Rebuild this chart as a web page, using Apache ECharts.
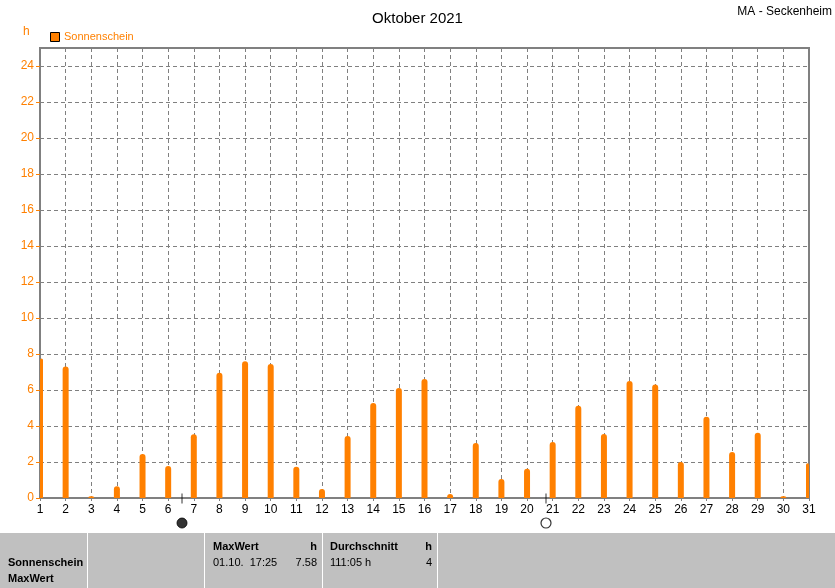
<!DOCTYPE html>
<html><head><meta charset="utf-8">
<script src="https://cdn.jsdelivr.net/npm/echarts@6/dist/echarts.min.js"></script>
<style>html,body{margin:0;padding:0;background:#fff}#c{width:835px;height:588px}</style>
</head><body><div id="c"></div>
<script>
const days = [1,2,3,4,5,6,7,8,9,10,11,12,13,14,15,16,17,18,19,20,21,22,23,24,25,26,27,28,29,30,31];
const sunshine = [7.75,7.3,0.1,0.65,2.44,1.78,3.54,6.96,7.6,7.44,1.74,0.5,3.44,5.28,6.11,6.61,0.22,3.06,1.06,1.63,3.11,5.13,3.56,6.5,6.3,2.0,4.52,2.56,3.63,0.1,1.93];
const yTicks = [0,2,4,6,8,10,12,14,16,18,20,22,24];
const newMoon = [6.54];
const fullMoon = [20.74];
const moonY = -1.39;
const orange = '#FF8000';
const font = 'Liberation Sans, Arial, sans-serif';

const chart = echarts.init(document.getElementById('c'), null, {renderer:'canvas'});
chart.setOption({
  animation:false,
  backgroundColor:'#fff',
  title:{text:'Oktober 2021', left:'center', top:6, textStyle:{fontFamily:font, fontSize:15, fontWeight:'normal', color:'#000'}},
  grid:{left:40, right:26, top:48, bottom:90, show:true, borderColor:'#808080', borderWidth:2, backgroundColor:'transparent'},
  xAxis:{type:'value', min:1, max:31, interval:1,
    axisLine:{show:true, lineStyle:{color:'#808080', width:2}},
    axisTick:{show:true, length:3, lineStyle:{color:'#808080'}},
    axisLabel:{color:'#000', fontFamily:font, fontSize:12, margin:6},
    splitLine:{show:true, lineStyle:{color:'#808080', type:[4,3], width:1}}},
  yAxis:{type:'value', min:0, max:25, interval:2,
    axisLine:{show:true, lineStyle:{color:'#808080', width:2}},
    axisTick:{show:true, length:4, lineStyle:{color:orange}},
    axisLabel:{color:orange, fontFamily:font, fontSize:12, margin:6, showMaxLabel:false,
      formatter:v=> yTicks.includes(v)? String(v):''},
    splitLine:{show:true, lineStyle:{color:'#808080', type:[4,3], width:1}}},
  series:[
    {type:'custom', name:'Sonnenschein', data:days.map((d,i)=>[d,sunshine[i]]), z:3,
      renderItem:function(params, api){
        const top = api.coord([api.value(0), api.value(1)]);
        const base = api.coord([api.value(0), 0]);
        const cs = params.coordSys;
        const rect = echarts.graphic.clipRectByRect(
          {x: top[0]-3, y: top[1], width: 6, height: base[1]-top[1]},
          {x: cs.x, y: cs.y, width: cs.width, height: cs.height});
        if (!rect) return null;
        return {type:'rect', shape:{x:rect.x, y:rect.y, width:rect.width, height:rect.height, r:[3,3,0,0]},
          style:{fill:orange}};
      }},
    {type:'scatter', data:newMoon.map(d=>[d,moonY]), clip:false, symbol:'circle', symbolSize:10,
      itemStyle:{color:'#000', borderColor:'#000', borderWidth:1}, z:5},
    {type:'scatter', data:fullMoon.map(d=>[d,moonY]), clip:false, symbol:'circle', symbolSize:10,
      itemStyle:{color:'#fff', borderColor:'#000', borderWidth:1.2}, z:5},
    {type:'scatter', data:newMoon.concat(fullMoon).map(d=>[d,-0.03]), clip:false, symbol:'rect', symbolSize:[1,10],
      itemStyle:{color:'#000'}, z:6}
  ],
  graphic:[
    {type:'text', right:3, top:6, style:{text:'MA - Seckenheim', font:'12px '+font, fill:'#000'}},
    {type:'text', left:23, top:26, style:{text:'h', font:'12px '+font, fill:orange}},
    {type:'rect', shape:{x:50.5, y:32.5, width:9, height:9}, style:{fill:orange, stroke:'#000', lineWidth:1}},
    {type:'text', left:64, top:31, style:{text:'Sonnenschein', font:'11px '+font, fill:orange}},
    {type:'rect', shape:{x:0, y:533, width:835, height:55}, style:{fill:'#C0C0C0'}},
    {type:'rect', shape:{x:87, y:533, width:1, height:55}, style:{fill:'#fff'}},
    {type:'rect', shape:{x:204, y:533, width:1, height:55}, style:{fill:'#fff'}},
    {type:'rect', shape:{x:322, y:533, width:1, height:55}, style:{fill:'#fff'}},
    {type:'rect', shape:{x:437, y:533, width:1, height:55}, style:{fill:'#fff'}},
    {type:'text', left:8, top:557, style:{text:'Sonnenschein', font:'bold 11px '+font, fill:'#000'}},
    {type:'text', left:8, top:573, style:{text:'MaxWert', font:'bold 11px '+font, fill:'#000'}},
    {type:'text', left:213, top:541, style:{text:'MaxWert', font:'bold 11px '+font, fill:'#000'}},
    {type:'text', right:835-317, top:541, style:{text:'h', font:'bold 11px '+font, fill:'#000'}},
    {type:'text', left:213, top:557, style:{text:'01.10.  17:25', font:'11px '+font, fill:'#000'}},
    {type:'text', right:835-317, top:557, style:{text:'7.58', font:'11px '+font, fill:'#000'}},
    {type:'text', left:330, top:541, style:{text:'Durchschnitt', font:'bold 11px '+font, fill:'#000'}},
    {type:'text', right:835-432, top:541, style:{text:'h', font:'bold 11px '+font, fill:'#000'}},
    {type:'text', left:330, top:557, style:{text:'111:05 h', font:'11px '+font, fill:'#000'}},
    {type:'text', right:835-432, top:557, style:{text:'4', font:'11px '+font, fill:'#000'}}
  ]
});
</script></body></html>
